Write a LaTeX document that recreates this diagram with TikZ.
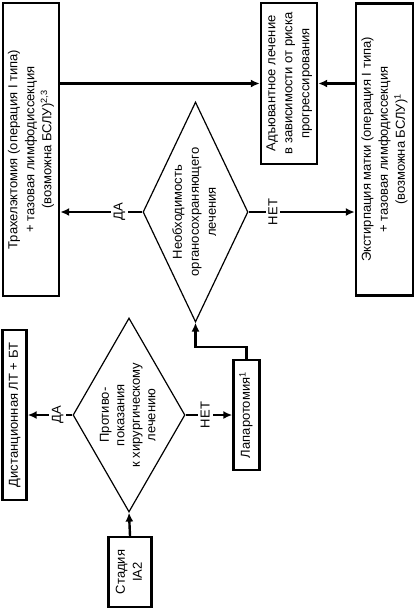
\documentclass[tikz,border=0pt]{standalone}
\usepackage{fontspec}
\setmainfont{Liberation Sans}
\usepackage{graphicx}
\usetikzlibrary{shapes.geometric, arrows.meta}

% Helper macro: vertical (rotated) multi-line text
\newcommand{\vtext}[1]{\rotatebox{90}{\begin{tabular}{@{}c@{}}#1\end{tabular}}}

\tikzset{
  box/.style={draw, line width=2.4pt, inner sep=0pt, fill=white},
  decision/.style={draw, diamond, line width=1.2pt, inner sep=-4pt},
  link/.style={line width=2.4pt, -{Latex[length=9pt,width=8pt]}},
  answer/.style={fill=white, inner sep=3pt, rotate=90},
}

\begin{document}
\begin{tikzpicture}[x=1pt, y=-1pt, font=\fontsize{13}{17}\selectfont]
\useasboundingbox (0,0) rectangle (416,611);

% Start and first decision
\node[box, minimum width=43pt, minimum height=70pt] (stage) at (130,572)
  {\vtext{Стадия\\IA2}};
\node[decision, shape aspect=0.577, minimum width=112pt, minimum height=194pt,
      font=\fontsize{13}{15.5}\selectfont] (contra) at (129,415)
  {\vtext{Противо-\\показания\\к хирургическому\\лечению}};
\node[box, minimum width=24pt, minimum height=170pt] (radio) at (14.5,415)
  {\vtext{Дистанционная ЛТ + БТ}};
\node[box, minimum width=26pt, minimum height=110pt] (lapar) at (246.5,415)
  {\vtext{Лапаротомия\textsuperscript{1}}};

% Second decision
\node[decision, shape aspect=0.477, minimum width=105pt, minimum height=220pt] (organ) at (195.5,212)
  {\vtext{Необходимость\\органосохраняющего\\лечения}};
\node[box, minimum width=56pt, minimum height=293pt] (trach) at (31,149.5)
  {\vtext{Трахелэктомия (операция I типа)\\+ тазовая лимфодиссекция\\(возможна БСЛУ)\textsuperscript{2,3}}};
\node[box, minimum width=57pt, minimum height=292pt] (extirp) at (384.5,149.5)
  {\vtext{Экстирпация матки (операция I типа)\\+ тазовая лимфодиссекция\\(возможна БСЛУ)\textsuperscript{1}}};
\node[box, minimum width=56pt, minimum height=161pt] (adjuv) at (289,83.5)
  {\vtext{Адъювантное лечение\\в зависимости от риска\\прогрессирования}};

% Connectors
\draw[link] (stage.north) -- (contra.south);
\draw[link] (contra.west) -- node[answer, pos=.33] {ДА} (radio.east);
\draw[link] (contra.east) -- node[answer, pos=.42] {НЕТ} (lapar.west);
\draw[link] (lapar.north) -- ++(0,-12) -| (organ.south);
\draw[link] (organ.west) -- node[answer, pos=.28] {ДА} (trach.east |- organ.west);
\draw[link] (organ.east) -- node[answer, pos=.23] {НЕТ} (extirp.west |- organ.east);
\draw[link] (trach.east |- adjuv.west) -- (adjuv.west);
\draw[link] (extirp.west |- adjuv.east) -- (adjuv.east);

\end{tikzpicture}
\end{document}
